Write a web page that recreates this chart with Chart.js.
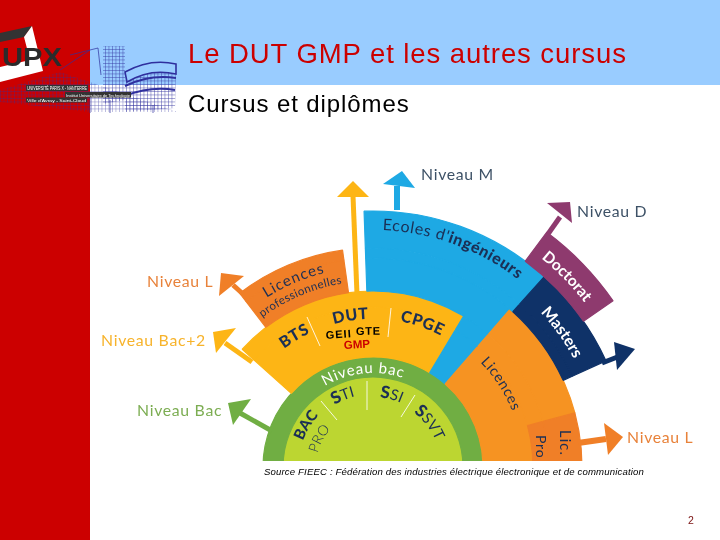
<!DOCTYPE html>
<html lang="fr">
<head>
<meta charset="utf-8">
<title>Le DUT GMP et les autres cursus</title>
<script src="https://cdn.jsdelivr.net/npm/chart.js@4/dist/chart.umd.min.js"></script>
<style>
  html, body { margin: 0; padding: 0; background: #fff; }
  #slide { position: relative; width: 720px; height: 540px; overflow: hidden; font-family: "Liberation Sans", Arial, sans-serif; }
  #redBar { position: absolute; left: 0; top: 0; width: 90px; height: 540px; background: #cc0000; }
  #blueBar { position: absolute; left: 90px; top: 0; width: 630px; height: 85px; background: #99ccff; }
  #chartClip { position: absolute; left: 81px; top: 175px; width: 584px; height: 286px; overflow: hidden; }
  #overlay { position: absolute; left: 0; top: 0; }
  .txt { position: absolute; white-space: nowrap; }
</style>
</head>
<body>
<div id="slide">
  <div id="redBar"></div>
  <div id="blueBar"></div>
  <div id="chartClip"><canvas id="cursus" width="584" height="584"></canvas></div>
  <svg id="overlay" width="720" height="540" xmlns="http://www.w3.org/2000/svg"></svg>
  <div class="txt" style="left:188px;top:38px;font-size:27.5px;color:#cc0000;letter-spacing:.93px">Le DUT GMP et les autres cursus</div>
  <div class="txt" style="left:188px;top:90px;font-size:24px;color:#000;letter-spacing:.9px">Cursus et diplômes</div>
  <div class="txt" style="left:264px;top:466px;font-size:9.6px;font-style:italic;color:#000;letter-spacing:.15px">Source FIEEC : Fédération des industries électrique électronique et de communication</div>
  <div class="txt" style="left:688px;top:514px;font-size:10.5px;color:#7a1010">2</div>
</div>
<script>
// ring edges, outside to inside (pixels)
const ringEdges = [292, 256, 219, 209, 176, 160, 110, 90, 0];

// colours
const gap = "rgba(0,0,0,0)";
const purple = "#8e3a6e";
const blue = "#1ea9e4";
const navy = "#0f3268";
const orange = "#f69322";
const darkOrange = "#f07f27";
const yellow = "#fdb515";
const green = "#70ae43";
const lime = "#bcd631";

// slice widths in degrees for each ring, clockwise from the left baseline
const doctoratRing = [131.5, 18.8, 209.7];
const mastersRing = [93, 44, 23.5, 199.5];
const licProTopRing = [57.5, 29.5, 6, 44, 23.5, 199.5];
const licProRing = [57.5, 29.5, 6, 43, 34, 20, 170];
const dutOuterRing = [47, 79, 10, 34, 20, 170];
const dutRing = [47, 79, 10, 54, 170];
const bacRing = [190, 170];
const coreRing = [190, 170];

const rings = [
  [doctoratRing, [gap, purple, gap]],
  [mastersRing, [gap, blue, navy, gap]],
  [licProTopRing, [gap, darkOrange, gap, blue, navy, gap]],
  [licProRing, [gap, darkOrange, gap, blue, orange, darkOrange, gap]],
  [dutOuterRing, [gap, yellow, blue, orange, darkOrange, gap]],
  [dutRing, [gap, yellow, blue, orange, gap]],
  [bacRing, [green, gap]],
  [coreRing, [lime, gap]],
];

new Chart(document.getElementById("cursus"), {
  type: "doughnut",
  data: {
    datasets: rings.map(([values, colors], i) => ({
      data: values,
      backgroundColor: colors,
      borderColor: colors,
      borderWidth: 1.2,
      weight: ringEdges[i] - ringEdges[i + 1],
    })),
  },
  options: {
    responsive: false,
    animation: false,
    radius: 292,
    cutout: 0,
    rotation: -95,
    plugins: { legend: { display: false }, tooltip: { enabled: false } },
  },
});

// labels and arrows on top of the chart
const cx = 373, cy = 467;
const dark = "#1b2f55";
const sketch = "#2f2f9e";
const svg = document.getElementById("overlay");
let defs = "", body = "", pathId = 0;

function polar(r, a) {
  const t = a * Math.PI / 180;
  return [(cx + r * Math.sin(t)).toFixed(1), (cy - r * Math.cos(t)).toFixed(1)];
}
function curved(r, a0, a1, content, style) {
  const id = "arc" + pathId++;
  const p0 = polar(r, a0 - 30), p1 = polar(r, a1 + 30);
  defs += `<path id="${id}" d="M${p0} A${r} ${r} 0 0 1 ${p1}"/>`;
  body += `<text font-family="Lato" ${style}><textPath href="#${id}" startOffset="50%" text-anchor="middle">${content}</textPath></text>`;
}
function arrow(color, shaft, width, head) {
  body += `<line x1="${shaft[0]}" y1="${shaft[1]}" x2="${shaft[2]}" y2="${shaft[3]}" stroke="${color}" stroke-width="${width}"/>`;
  body += `<polygon points="${head}" fill="${color}"/>`;
}
function label(x, y, text, color) {
  body += `<text x="${x}" y="${y}" font-family="Lato" font-size="15.8" letter-spacing=".7" fill="${color}">${text}</text>`;
}
function divider(x1, y1, x2, y2) {
  body += `<line x1="${x1}" y1="${y1}" x2="${x2}" y2="${y2}" stroke="#fff" stroke-opacity=".85" stroke-width="1"/>`;
}

// arrows
arrow(blue, [397, 186, 397, 210], 6, "402,171 383,184 415,188");
arrow(purple, [560, 217, 548, 234], 5, "547,203 570,202 572,223");
arrow(navy, [620, 356, 602, 363], 5, "614,342 635,349 617,370");
arrow(darkOrange, [578, 443, 606, 439], 6, "604,423 623,437 608,455");
arrow(darkOrange, [233, 285, 243, 294], 5, "221,273 244,276 219,296");
arrow(yellow, [225, 343, 252, 362], 5, "213,332 236,328 216,353");
arrow(green, [240, 413, 272, 431], 5, "228,403 251,399 233,425");
arrow(yellow, [353, 196, 357, 294], 5, "353,181 337,197 369,197");

// level names
label(421, 180, "Niveau M", "#3d5166");
label(577, 217, "Niveau D", "#3d5166");
label(147, 287, "Niveau L", "#e8823a");
label(101, 346, "Niveau Bac+2", "#f7b32b");
label(137, 416, "Niveau Bac", "#7cad52");
label(627, 443, "Niveau L", "#e8823a");

// dividers
divider(307, 317, 320, 346);
divider(391, 308, 388, 337);
divider(321, 401, 337, 420);
divider(367, 381, 367, 410);
divider(415, 395, 401, 417);

// ring labels
curved(237, 1, 39, `Ecoles d'<tspan font-weight="900">ingénieurs</tspan>`, `font-size="16" letter-spacing=".6" fill="${dark}"`);
curved(268, 37, 54, "Doctorat", `font-size="15.5" font-weight="700" fill="#fff"`);
curved(228, 46, 63, "Masters", `font-size="16" font-weight="700" fill="#fff"`);
curved(150, 44, 70, "Licences", `font-size="14.5" letter-spacing=".6" fill="${dark}"`);
curved(200, -33, -13, "Licences", `font-size="15" letter-spacing="1" fill="${dark}"`);
curved(186, -38, -8, "professionnelles", `font-size="11.5" letter-spacing=".4" fill="${dark}"`);
curved(148, -38, -24, "BTS", `font-size="16" font-weight="900" letter-spacing=".6" fill="${dark}"`);
curved(148, -15, -2, "DUT", `font-size="16" font-weight="900" letter-spacing=".6" fill="${dark}"`);
curved(148, 10, 28, "CPGE", `font-size="16" font-weight="900" letter-spacing=".6" fill="${dark}"`);
curved(94, -32, 20, "Niveau bac", `font-size="15" letter-spacing=".8" fill="#fff"`);
curved(73, -31, -15, `<tspan font-size="17" font-weight="900">S</tspan>TI`, `font-size="15" fill="${dark}"`);
curved(70, 3, 26, `<tspan font-size="17" font-weight="900">S</tspan>SI`, `font-size="15" fill="${dark}"`);
curved(68, 38, 66, `<tspan font-size="17" font-weight="900">S</tspan>SVT`, `font-size="15" fill="${dark}"`);
curved(75, -71, -45, "BAC", `font-size="15" font-weight="900" fill="${dark}"`);
curved(57, -77, -47, "PRO", `font-size="14" font-weight="300" fill="${dark}"`);

body += `<text transform="translate(560 430) rotate(90)" font-family="Lato" font-size="14.5" letter-spacing="1.2" fill="${dark}">Lic.</text>`;
body += `<text transform="translate(536 435) rotate(90)" font-family="Lato" font-size="14" letter-spacing=".8" fill="${dark}">Pro</text>`;

// specialities written over the DUT slice
body += `<text transform="translate(326 339) rotate(-4)" font-family="Liberation Sans" font-weight="700" font-size="11" textLength="25" fill="#000">GEII</text>`;
body += `<text transform="translate(356 335) rotate(-1)" font-family="Liberation Sans" font-weight="700" font-size="11" letter-spacing=".8" fill="#000">GTE</text>`;
body += `<text transform="translate(344 349) rotate(-3)" font-family="Liberation Sans" font-weight="700" font-size="11.5" fill="#cc0000">GMP</text>`;

// logo: sketch of the campus over the bars
defs += `<pattern id="grid" width="3.5" height="3.5" patternUnits="userSpaceOnUse"><path d="M0 0H3.5M0 0V3.5" stroke="${sketch}" stroke-width=".8" fill="none"/></pattern>`;
body += `<polygon points="103,46 125,46 125,100 103,104" fill="url(#grid)"/>`;
body += `<polygon points="125,80 176,66 175,108 125,112" fill="url(#grid)"/>`;
body += `<polygon points="0,90 60,72 90,82 178,112 90,112 0,102" fill="url(#grid)" opacity=".75"/>`;
body += `<path d="M125 72 Q150 58 176 64 L176 74 Q150 68 127 82Z" fill="#99ccff" stroke="${sketch}" stroke-width="1.6"/>`;
body += `<path d="M125 86 Q150 74 176 78 M125 96 Q150 86 175 90" stroke="${sketch}" stroke-width="2" fill="none"/>`;
body += `<path d="M70 55 L98 48 L101 75 M60 70 L90 50 M90 96 V113 M110 100 V113 M153 105 V113" stroke="${sketch}" stroke-width=".7" fill="none"/>`;
body += `<polygon points="0,33 32,26 24,37 0,42" fill="#333"/>`;
body += `<polygon points="32,26 43,71 0,82 0,67 30,60 24,37" fill="#fff"/>`;
body += `<text x="2" y="65.5" font-family="Liberation Sans" font-weight="700" font-size="26" textLength="60" lengthAdjust="spacingAndGlyphs" fill="#2b2b2b">UPX</text>`;
body += `<rect x="26" y="85" width="62" height="6" fill="#333"/><rect x="65" y="92" width="66" height="5.5" fill="#333"/><rect x="26" y="97.5" width="61" height="5" fill="#333"/>`;
body += `<text x="27" y="90" font-family="Liberation Sans" font-size="4.6" textLength="60" lengthAdjust="spacingAndGlyphs" fill="#fff">UNIVERSITÉ PARIS X - NANTERRE</text>`;
body += `<text x="66" y="96.5" font-family="Liberation Sans" font-size="4.4" textLength="64" lengthAdjust="spacingAndGlyphs" fill="#fff">Institut Universitaire de Technologie</text>`;
body += `<text x="27" y="102" font-family="Liberation Sans" font-size="4.4" textLength="59" lengthAdjust="spacingAndGlyphs" fill="#fff">Ville d'Avray - Saint-Cloud</text>`;

svg.innerHTML = `<defs>${defs}</defs>${body}`;
</script>
</body>
</html>
